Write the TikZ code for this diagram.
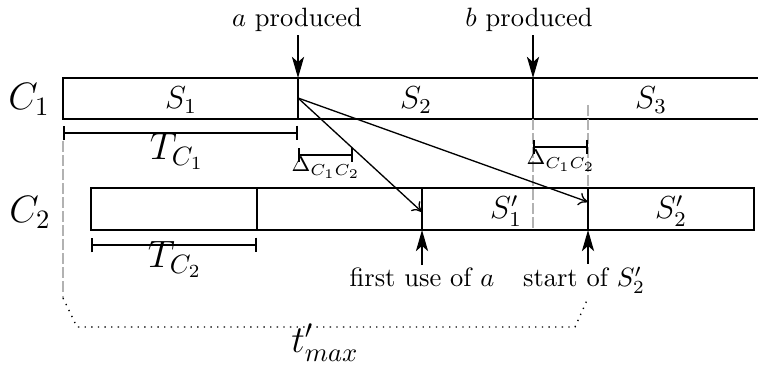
\documentclass[tikz,border=0pt]{standalone}
\usepackage{amsmath}
\usetikzlibrary{arrows.meta, positioning, calc}

\begin{document}
\begin{tikzpicture}[
    x=0.01326cm, y=-0.01326cm,
    row/.style={line width=0.5pt},
    cut/.style={line width=0.9pt},
    event/.style={-{Stealth[length=8pt, width=4.6pt, inset=2pt]}, line width=0.5pt},
    msg/.style={-{To[length=3.5pt, width=5pt]}, line width=0.5pt},
    span/.style={{Bar[width=5.5pt]}-{Bar[width=5.5pt]}, line width=0.6pt},
    guide/.style={gray!60, dash pattern=on 4pt off 1.3pt, line width=0.5pt},
    total/.style={dotted, line width=0.5pt},
    lbl/.style={inner sep=1pt, anchor=base}
]
\useasboundingbox (0,0) rectangle (758,369);
% time points
\coordinate (aC1) at (298,78);
\coordinate (aC1b) at (298,119);
\coordinate (bC1) at (533,78);
\coordinate (bC1b) at (533,119);
\coordinate (aSend) at (298,98);
\coordinate (useA) at (422,212);
\coordinate (useB) at (588,202);
\coordinate (useAb) at (422,230);
\coordinate (startS2b) at (588,230);
% rows
\draw[row] (758,78) -| (63,119) -- (758,119);
\draw[row] (91,188) rectangle (754,230);
\draw[cut] (aC1) -- (aC1b);
\draw[cut] (bC1) -- (bC1b);
\draw[cut] (257,188) -- (257,230);
\draw[cut] (422,188) -- (useAb);
\draw[cut] (588,188) -- (startS2b);
% labels
\node[lbl, font=\Large] (c1) at (29,110) {$C_1$};
\node[lbl, font=\Large] (c2) at (30,223) {$C_2$};
\node[lbl, font=\large] (s1) at (181,109) {$S_1$};
\node[lbl, font=\large] (s2) at (416,109) {$S_2$};
\node[lbl, font=\large] (s3) at (651,109) {$S_3$};
\node[lbl, font=\large] (s1p) at (506,219) {$S'_1$};
\node[lbl, font=\large] (s2p) at (671,219) {$S'_2$};
% guides
\draw[guide] (bC1b) -- (533,230);
\draw[guide] (588,105) -- (588,188);
\draw[guide] (63,141) -- (63,298);
\draw[total] (63,298) -- (77,327) -- (575,327) -- (588,298);
\node[lbl, font=\Large] (tmax) at (325,352) {$t'_{max}$};
% spans
\draw[span] (63,133) -- (298,133);
\node[lbl, font=\Large] (tc1) at (177,160) {$T_{C_1}$};
\draw[span] (91,245) -- (257,245);
\node[lbl, font=\Large] (tc2) at (175,268) {$T_{C_2}$};
\draw[span] (298,155) -- (353,155);
\node[lbl, font=\footnotesize] (d1) at (326,172) {$\Delta_{C_1C_2}$};
\draw[span] (533,147) -- (588,147);
\node[lbl, font=\footnotesize] (d2) at (561,165) {$\Delta_{C_1C_2}$};
% events
\node[lbl] (aprod) at (297,27) {$a$ produced};
\node[lbl] (bprod) at (529,27) {$b$ produced};
\draw[event] (aprod.south -| aC1) -- (aC1);
\draw[event] (bprod.south -| bC1) -- (bC1);
\node[lbl] (firstuse) at (422,287) {first use of $a$};
\node[lbl] (starts2) at (584,287) {start of $S'_2$};
\draw[event] (firstuse.north -| useAb) -- (useAb);
\draw[event] (starts2.north -| startS2b) -- (startS2b);
% messages
\draw[msg] (aSend) -- (useA);
\draw[msg] (aSend) -- (useB);
\end{tikzpicture}
\end{document}
